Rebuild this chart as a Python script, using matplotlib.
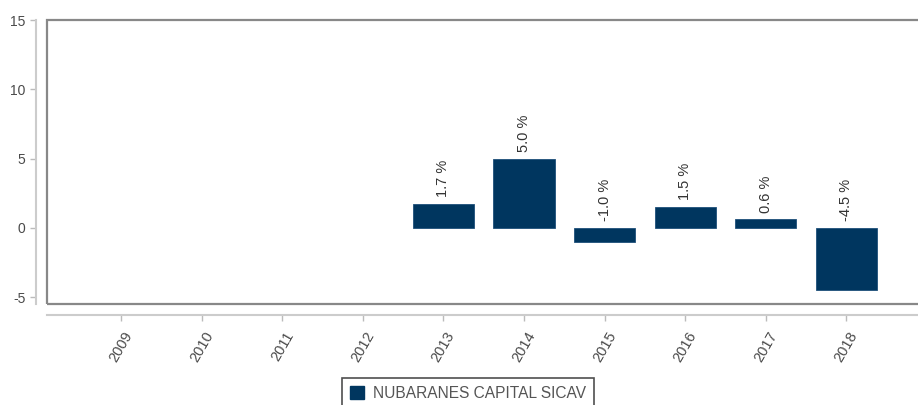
import matplotlib.pyplot as plt
import matplotlib.patches as mpatches
import numpy as np

plt.rcParams['font.family'] = ['Liberation Sans', 'DejaVu Sans']
plt.rcParams['axes.unicode_minus'] = False

years = ['2009', '2010', '2011', '2012', '2013', '2014', '2015', '2016', '2017', '2018']
returns = [np.nan, np.nan, np.nan, np.nan, 1.7, 5.0, -1.0, 1.5, 0.6, -4.5]
series_name = 'NUBARANES CAPITAL SICAV'

bar_color = '#00365f'
W, H = 918, 405

fig = plt.figure(figsize=(W / 100, H / 100), dpi=100)
# plot area in pixels: left 47, top 20, bottom 304, running past the right edge
ax = fig.add_axes([47 / W, (H - 304) / H, (927 - 47) / W, (304 - 20) / H])

x = np.arange(len(years))
vals = np.array(returns, dtype=float)
ax.bar(x, vals, width=0.76, color=bar_color, edgecolor='#1d4f7a', linewidth=0.6, zorder=3)

# value labels sit just above the zero line or the bar top
for xi, v in zip(x, vals):
    if np.isnan(v):
        continue
    base = max(v, 0)
    ax.annotate(f'{v:.1f} %', (xi, base), xytext=(0, 5), textcoords='offset points',
                rotation=90, ha='center', va='bottom', fontsize=10.5, color='#333333')

ax.set_xlim(-0.918, 10)
ax.set_ylim(-5.5, 15)
ax.set_yticks([-5, 0, 5, 10, 15])
ax.set_xticks(x)
ax.set_xticklabels(years)

# the outer axis lines are offset from the plot frame
for side in ['left', 'bottom']:
    ax.spines[side].set_position(('outward', 8))
    ax.spines[side].set_color('#cccccc')
    ax.spines[side].set_linewidth(1.5)
for side in ['top', 'right']:
    ax.spines[side].set_visible(False)

ax.tick_params(axis='both', colors='#bbbbbb', labelcolor='#4a4a4a', labelsize=10,
               length=4, width=1)
ax.tick_params(axis='x', pad=6, labelsize=10.5)
plt.setp(ax.get_xticklabels(), rotation=60, ha='center', va='top')

# plot frame
frame = mpatches.Rectangle((0, 0), 1, 1, transform=ax.transAxes, fill=False,
                           edgecolor='#888888', linewidth=1.6, clip_on=False, zorder=5)
ax.add_patch(frame)

handle = mpatches.Patch(color=bar_color, label=series_name)
leg = fig.legend(handles=[handle], loc='upper left', bbox_to_anchor=(342 / W, 1 - 378 / H),
                 frameon=True, fancybox=False, fontsize=11.2, handlelength=0.9,
                 handleheight=0.9, borderpad=0.5, handletextpad=0.6, borderaxespad=0)
leg.get_frame().set_edgecolor('#222222')
leg.get_frame().set_linewidth(1.2)
for t in leg.get_texts():
    t.set_color('#555555')

fig.savefig('out.png', dpi=100)
